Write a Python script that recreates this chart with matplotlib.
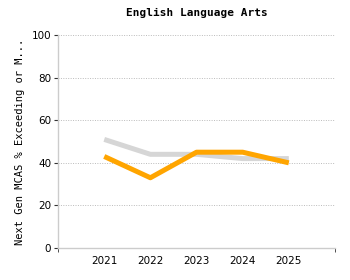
import matplotlib
matplotlib.use("Agg")
import matplotlib.pyplot as plt

years = [2021, 2022, 2023, 2024, 2025]
state = [51, 44, 44, 42, 42]
district = [43, 33, 45, 45, 40]
y_ticks = [0, 20, 40, 60, 80, 100]

fig = plt.figure(figsize=(3.5, 2.8), dpi=100)
ax = fig.add_axes([0.166, 0.114, 0.791, 0.761])

ax.plot(years, state, color="#d6d6d6", linewidth=3.6, solid_capstyle="butt")
ax.plot(years, district, color="#ffa500", linewidth=3.6, solid_capstyle="butt")

ax.set_xlim(2020, 2026)
ax.set_ylim(0, 100)
ax.set_yticks(y_ticks)
ax.set_xticks(years)
ax.set_xticks([2020, 2026], minor=True)
ax.tick_params(axis="x", which="major", length=0, labelsize=7.5, pad=6)
ax.tick_params(axis="x", which="minor", length=3, color="#333333", direction="out")
ax.tick_params(axis="y", length=3, color="#333333", labelsize=7.5, pad=2)
ax.grid(axis="y", linestyle=(0, (1, 1.5)), color="#bbbbbb", linewidth=0.7)

for s in ["top", "right"]:
    ax.spines[s].set_visible(False)
for s in ["left", "bottom"]:
    ax.spines[s].set_color("#cccccc")
    ax.spines[s].set_linewidth(1)

ax.set_title("English Language Arts", fontsize=8, fontweight="bold",
             family="DejaVu Sans Mono", pad=14)
ax.set_ylabel("Next Gen MCAS % Exceeding or M...", fontsize=7.5,
              family="DejaVu Sans Mono", labelpad=5)

fig.savefig("out.png", dpi=100)
